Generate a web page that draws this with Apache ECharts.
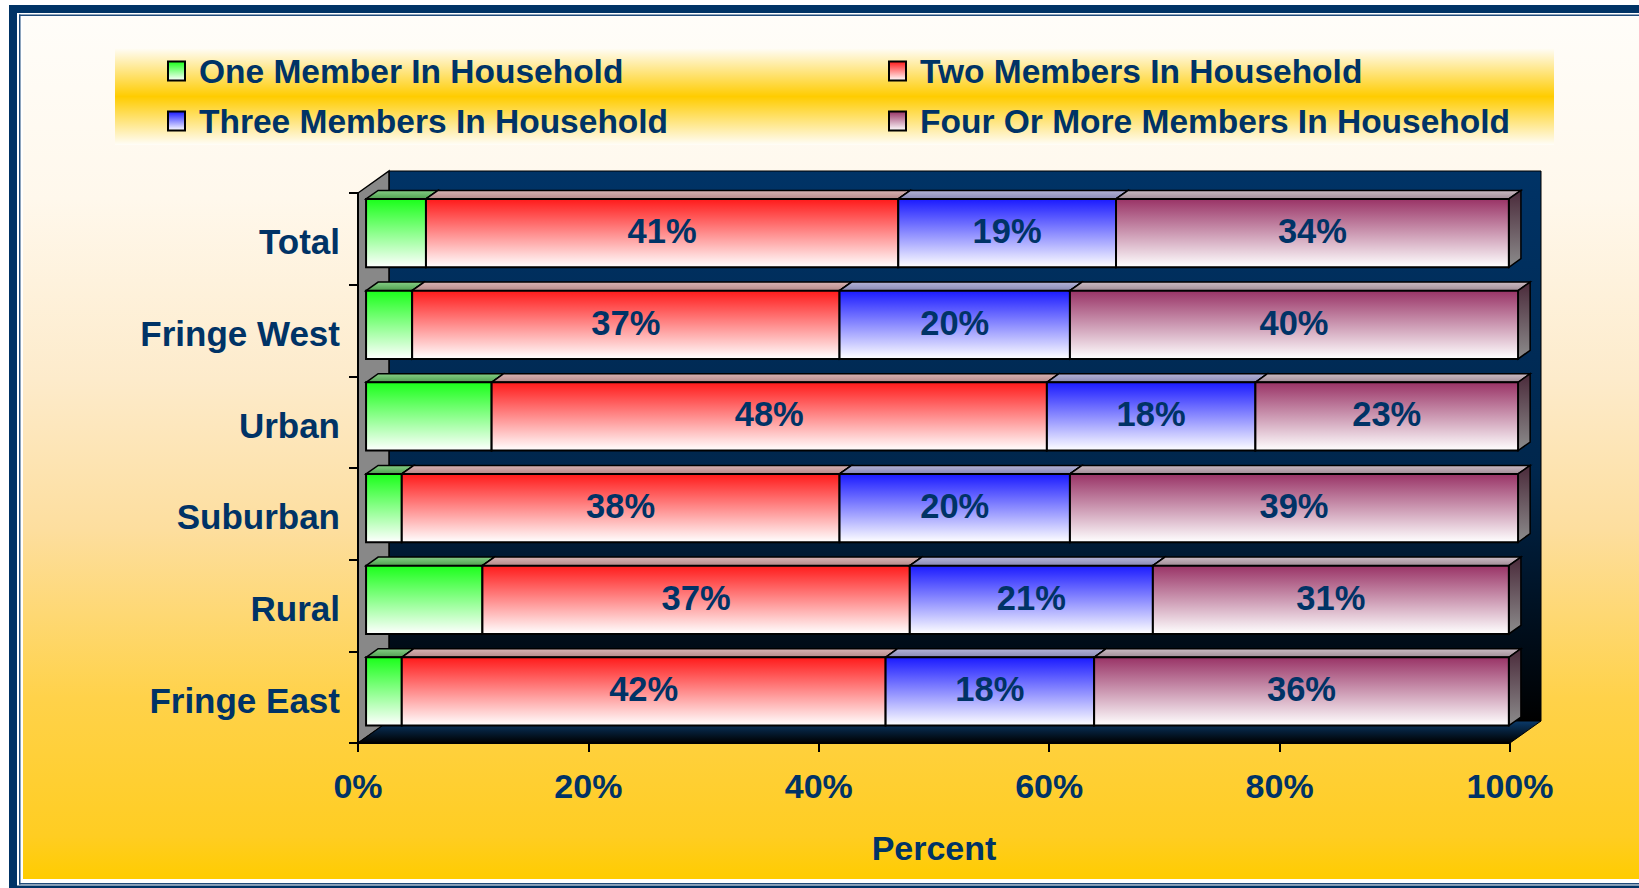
<!DOCTYPE html>
<html>
<head>
<meta charset="utf-8">
<script src="https://cdn.jsdelivr.net/npm/echarts@6/dist/echarts.min.js"></script>
<style>
html,body{margin:0;padding:0;background:#ffffff;}
#chart{width:1639px;height:888px;}
</style>
</head>
<body>
<div id="chart"></div>
<script>
// ---------- data ----------
const categories = ['Total', 'Fringe West', 'Urban', 'Suburban', 'Rural', 'Fringe East'];
const seriesNames = ['One Member In Household', 'Two Members In Household', 'Three Members In Household', 'Four Or More Members In Household'];
const oneMember    = [5.2, 4.0, 10.9, 3.1, 10.1, 3.1];
const twoMembers   = [41.0, 37.1, 48.2, 38.0, 37.1, 42.0];
const threeMembers = [18.9, 20.0, 18.1, 20.0, 21.1, 18.1];
const fourMembers  = [34.1, 40.0, 23.0, 39.2, 30.9, 36.0];
const xTickValues  = [0, 20, 40, 60, 80, 100];
const xTickLabels  = ['0%', '20%', '40%', '60%', '80%', '100%'];
const xAxisName = 'Percent';

// ---------- style ----------
const FONT = '"Liberation Sans", Arial, sans-serif';
const NAVY = '#003366';
const X_MIN = 0, X_MAX = 100;
const DX = 31, DY = 22;          // 3D depth of the plot box
const F0 = 0.26, F1 = 0.65;      // bar front / back position inside the depth
const BAR_RATIO = 0.745;

function vgrad(stops) {
  return new echarts.graphic.LinearGradient(0, 0, 0, 1,
    stops.map(function (s) { return { offset: s[0], color: s[1] }; }));
}

const seriesStyles = [
  { front: [[0, '#1AFF1A'], [1, '#FFFFFF']], top: [[0, '#86CF86'], [1, '#4E9E4E']], label: false },
  { front: [[0, '#FF1A1A'], [1, '#FFFFFF']], top: [[0, '#D8B4B4'], [1, '#B48888']], label: true },
  { front: [[0, '#1A1AFF'], [1, '#FFFFFF']], top: [[0, '#B4B4D8'], [1, '#8888B4']], label: true },
  { front: [[0, '#993366'], [1, '#FFFFFF']], top: [[0, '#CBBCC4'], [1, '#A08C96']], label: true }
];
const sideStops = [[0, '#4A2A3A'], [1, '#8C8C8C']];

const seriesValues = [oneMember, twoMembers, threeMembers, fourMembers];
const cum = categories.map(function () { return 0; });
const stackedData = seriesValues.map(function (vals) {
  return vals.map(function (v, i) {
    const start = cum[i];
    cum[i] += v;
    return [start, cum[i], i, v];
  });
});

function barRender(s) {
  return function (params, api) {
    const start = api.value(0);
    const end = Math.min(api.value(1), X_MAX);
    const cat = api.value(2);
    const val = api.value(3);
    const a = api.coord([start, cat]);
    const b = api.coord([end, cat]);
    const band = api.size([0, 1])[1];
    const h = band * BAR_RATIO;
    const ox = DX * F0, oy = DY * F0;
    const dx = DX * (F1 - F0), dy = DY * (F1 - F0);
    const x0 = a[0] + ox, x1 = b[0] + ox;
    const y0 = a[1] - h / 2 - oy, y1 = y0 + h;
    const st = seriesStyles[s];
    const children = [
      { type: 'polygon', shape: { points: [[x0, y0], [x0 + dx, y0 - dy], [x1 + dx, y0 - dy], [x1, y0]] },
        style: { fill: vgrad(st.top), stroke: '#000', lineWidth: 1.5 } },
      { type: 'polygon', shape: { points: [[x1, y0], [x1 + dx, y0 - dy], [x1 + dx, y1 - dy], [x1, y1]] },
        style: { fill: vgrad(sideStops), stroke: '#000', lineWidth: 1.5 } },
      { type: 'rect', shape: { x: x0, y: y0, width: x1 - x0, height: h },
        style: { fill: vgrad(st.front), stroke: '#000', lineWidth: 2 } }
    ];
    if (st.label) {
      children.push({ type: 'text', x: (x0 + x1) / 2, y: (y0 + y1) / 2 - 2,
        style: { text: Math.round(val) + '%', fill: NAVY, font: 'bold 34.5px ' + FONT,
                 align: 'center', verticalAlign: 'middle' } });
    }
    return { type: 'group', children: children };
  };
}

function frameRender(params, api) {
  const band = api.size([0, 1])[1];
  const tl = api.coord([X_MIN, 0]);
  const br = api.coord([X_MAX, categories.length - 1]);
  const L = tl[0], T = tl[1] - band / 2, R = br[0], B = br[1] + band / 2;
  const children = [
    { type: 'rect', shape: { x: L + DX, y: T - DY, width: R - L, height: B - T },
      style: { fill: vgrad([[0, '#003366'], [0.55, '#00264C'], [1, '#000000']]), stroke: '#000', lineWidth: 1 } },
    { type: 'polygon', shape: { points: [[L, T], [L + DX, T - DY], [L + DX, B - DY], [L, B]] },
      style: { fill: '#888888', stroke: '#000', lineWidth: 1.5 } },
    { type: 'polygon', shape: { points: [[L, B], [L + DX, B - DY], [R + DX, B - DY], [R, B]] },
      style: { fill: vgrad([[0, '#0A3A6A'], [1, '#000000']]), stroke: '#000', lineWidth: 1 } }
  ];
  categories.forEach(function (c, i) {
    const p = api.coord([X_MIN, i]);
    children.push({ type: 'text', x: p[0] - 18, y: p[1] + 3,
      style: { text: c, fill: NAVY, font: 'bold 35px ' + FONT, align: 'right', verticalAlign: 'middle' } });
  });
  return { type: 'group', children: children };
}

const chart = echarts.init(document.getElementById('chart'), null, { renderer: 'svg', width: 1639, height: 888 });

const legendCommon = {
  orient: 'horizontal', padding: 0, itemWidth: 17, itemHeight: 19, icon: 'rect',
  selectedMode: false,
  textStyle: { color: NAVY, fontSize: 33.5, fontWeight: 'bold', fontFamily: FONT, padding: [0, 0, 0, 9], lineHeight: 34 }
};
const legendPos = [[167, 54], [888, 54], [167, 104], [888, 104]];
const legends = seriesNames.map(function (n, i) {
  return Object.assign({}, legendCommon, {
    left: legendPos[i][0], top: legendPos[i][1],
    data: [{ name: n, itemStyle: { color: vgrad(seriesStyles[i].front), borderColor: '#000', borderWidth: 2 } }]
  });
});

const series = [{
  type: 'custom', name: 'frame', z: 1, clip: false, silent: true,
  encode: { x: 0, y: 1 }, data: [[0, 0]], renderItem: frameRender
}].concat(seriesNames.map(function (n, s) {
  return {
    type: 'custom', name: n, z: 2, clip: false,
    encode: { x: [0, 1], y: 2 },
    data: stackedData[s],
    renderItem: barRender(s)
  };
}));

chart.setOption({
  animation: false,
  graphic: { elements: [
    { type: 'rect', z: -10, shape: { x: 23, y: 17, width: 1616, height: 862 }, silent: true,
      style: { fill: vgrad([[0, '#FFFDF9'], [0.21, '#FFF8EC'], [0.42, '#FDEBCB'], [0.595, '#FDDE9E'], [0.79, '#FFD24A'], [0.95, '#FFCD22'], [1, '#FFCC00']]) } },
    { type: 'rect', z: -9, shape: { x: 115, y: 48, width: 1439, height: 97 }, silent: true,
      style: { fill: vgrad([[0, '#FFFDF8'], [0.5, '#FFCC00'], [1, '#FFFDF8']]) } },
    { type: 'rect', z: -9, shape: { x: 9, y: 5, width: 8, height: 883 }, silent: true, style: { fill: NAVY } },
    { type: 'rect', z: -9, shape: { x: 9, y: 5, width: 1630, height: 8 }, silent: true, style: { fill: NAVY } },
    { type: 'rect', z: -9, shape: { x: 9, y: 885.5, width: 1630, height: 3 }, silent: true, style: { fill: NAVY } },
    { type: 'rect', z: -9, shape: { x: 19, y: 14.5, width: 1.5, height: 870 }, silent: true, style: { fill: '#1F4A7A' } },
    { type: 'rect', z: -9, shape: { x: 19, y: 14.5, width: 1620, height: 1.5 }, silent: true, style: { fill: '#1F4A7A' } },
    { type: 'rect', z: -9, shape: { x: 19, y: 883, width: 1620, height: 1.5 }, silent: true, style: { fill: '#1F4A7A' } }
  ] },
  legend: legends,
  grid: { left: 358, right: 129, top: 193, bottom: 145, containLabel: false },
  xAxis: {
    type: 'value', min: X_MIN, max: X_MAX, interval: 20, z: 3,
    axisLine: { show: true, lineStyle: { color: '#000', width: 2 } },
    axisTick: { show: true, length: 9, lineStyle: { color: '#000', width: 2 } },
    splitLine: { show: false },
    axisLabel: {
      formatter: function (v) { const k = xTickValues.indexOf(v); return k >= 0 ? xTickLabels[k] : ''; },
      color: NAVY, fontSize: 34, fontWeight: 'bold', fontFamily: FONT, margin: 26
    },
    name: xAxisName, nameLocation: 'middle', nameGap: 88,
    nameTextStyle: { color: NAVY, fontSize: 34, fontWeight: 'bold', fontFamily: FONT }
  },
  yAxis: {
    type: 'category', data: categories, inverse: true, z: 3,
    axisLine: { show: true, lineStyle: { color: '#000', width: 2 } },
    axisTick: { show: true, length: 9, lineStyle: { color: '#000', width: 2 } },
    axisLabel: { show: false }
  },
  series: series
});
</script>
</body>
</html>
